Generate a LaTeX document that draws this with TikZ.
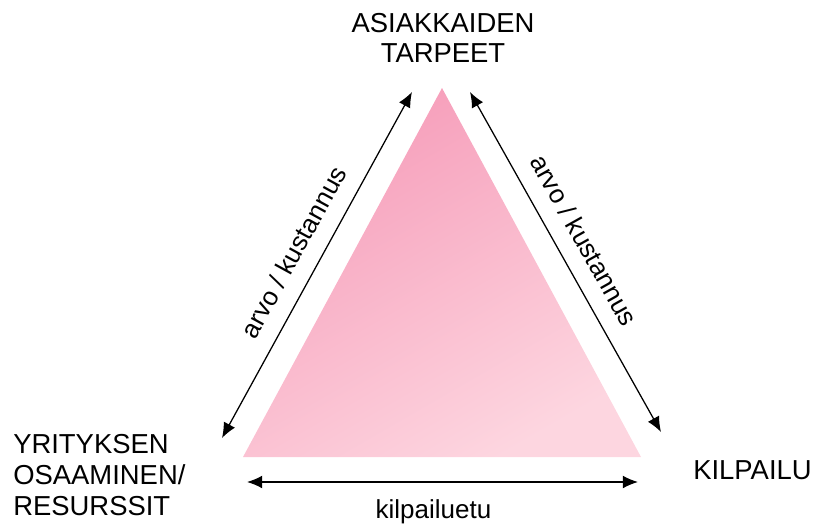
\documentclass[tikz,border=0pt]{standalone}
\usepackage{fontspec}
\setmainfont{Liberation Sans}
\usetikzlibrary{arrows.meta,positioning}
\definecolor{pinkdark}{RGB}{246,156,185}
\definecolor{pinklight}{RGB}{253,214,224}

\begin{document}
\begin{tikzpicture}[
    x=0.025cm, y=-0.025cm,
    corner/.style={font=\fontsize{19.5}{21.8}\selectfont, inner sep=0pt},
    relation/.style={font=\fontsize{18.5}{22}\selectfont},
    link/.style={{Latex[length=0.38cm,width=0.32cm]}-{Latex[length=0.38cm,width=0.32cm]}, line width=0.9pt}
]
\useasboundingbox (0,0) rectangle (821,531);

\coordinate (apex) at (442,88);
\coordinate (base l) at (243,457);
\coordinate (base r) at (641,457);
\shade[top color=pinkdark, bottom color=pinklight, shading angle=30] (apex) -- (base l) -- (base r) -- cycle;

\node[corner, align=center] (asiakkaat) at (443,38) {ASIAKKAIDEN\\TARPEET};
\node[corner, align=left, anchor=west] (yritys) at (13,475) {YRITYKSEN\\OSAAMINEN/\\RESURSSIT};
\node[corner, anchor=west] (kilpailu) at (693,470) {KILPAILU};

\coordinate (l top) at (412,92);
\coordinate (l bot) at (222,438);
\coordinate (r top) at (470,92);
\coordinate (r bot) at (661,432);
\coordinate (b left) at (247,482);
\coordinate (b right) at (638,482);

\draw[link] (l bot) -- node[relation, sloped, above=0.3cm, pos=0.5] {arvo / kustannus} (l top);
\draw[link] (r top) -- node[relation, sloped, above=0.3cm, pos=0.475] {arvo / kustannus} (r bot);
\draw[link] (b left) -- node[relation, below=0.32cm, pos=0.477] {kilpailuetu} (b right);
\end{tikzpicture}
\end{document}
